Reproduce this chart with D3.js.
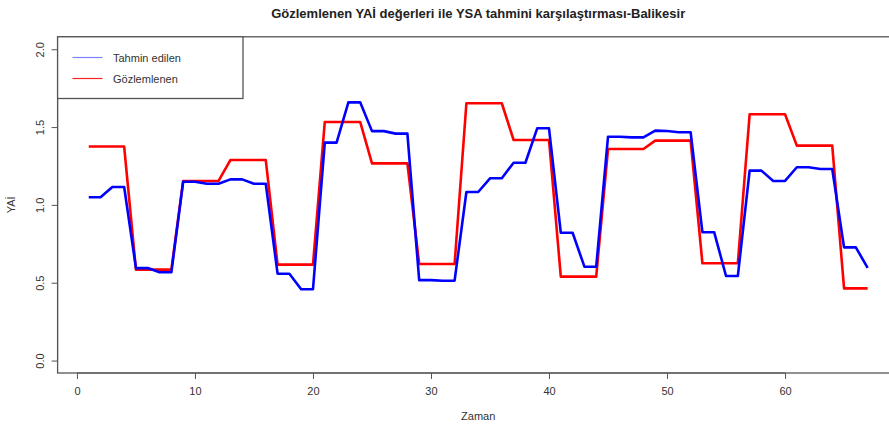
<!DOCTYPE html>
<html>
<head>
<meta charset="utf-8">
<script src="https://cdn.jsdelivr.net/npm/d3@7"></script>
<style>
  body { margin: 0; background: #fff; }
  text { font-family: "Liberation Sans", Arial, sans-serif; }
</style>
</head>
<body>
<div class="chart"></div>
<script>
// time index (Zaman)
const zaman = d3.range(1, 68)

// predicted (Tahmin edilen)
const tahmin = [
  1.049, 1.049, 1.115, 1.115, 0.594, 0.594, 0.567, 0.567, 1.149, 1.149,
  1.136, 1.136, 1.164, 1.164, 1.136, 1.136, 0.558, 0.558, 0.458, 0.458,
  1.400, 1.400, 1.659, 1.659, 1.474, 1.474, 1.458, 1.458, 0.517, 0.517,
  0.513, 0.513, 1.083, 1.083, 1.171, 1.171, 1.271, 1.271, 1.492, 1.492,
  0.821, 0.821, 0.603, 0.603, 1.438, 1.438, 1.434, 1.434, 1.477, 1.475,
  1.467, 1.467, 0.824, 0.824, 0.543, 0.543, 1.220, 1.220, 1.154, 1.154,
  1.242, 1.242, 1.231, 1.231, 0.727, 0.727, 0.596
]

// observed (Gözlemlenen)
const gozlem = [
  1.375, 1.375, 1.375, 1.375, 0.584, 0.584, 0.584, 0.584, 1.154, 1.154,
  1.154, 1.154, 1.288, 1.288, 1.288, 1.288, 0.616, 0.616, 0.616, 0.616,
  1.533, 1.533, 1.533, 1.533, 1.267, 1.267, 1.267, 1.267, 0.620, 0.620,
  0.620, 0.620, 1.653, 1.653, 1.653, 1.653, 1.417, 1.417, 1.417, 1.417,
  0.539, 0.539, 0.539, 0.539, 1.359, 1.359, 1.359, 1.359, 1.413, 1.413,
  1.413, 1.413, 0.625, 0.625, 0.625, 0.625, 1.582, 1.582, 1.582, 1.582,
  1.381, 1.381, 1.381, 1.381, 0.464, 0.464, 0.464
]

const xTicks = [0, 10, 20, 30, 40, 50, 60]
const yTicks = [0, 0.5, 1, 1.5, 2]
const legendLabels = ["Tahmin edilen", "Gözlemlenen"]
const colors = ["#0000ff", "#ff0000"]
const legendColors = ["#8080ff", "#ff2020"]

const width = 889
const height = 427
const svg = d3.select(".chart").append("svg")
    .attr("width", width)
    .attr("height", height)

// R style 4% padding around data range
const x = d3.scaleLinear().domain([-1.64, 69.64]).range([57.6, 898.8])
const y = d3.scaleLinear().domain([-0.08, 2.08]).range([373, 36.8])

const axisCol = "#555"
const textCol = "#333"

// plot box
svg.append("rect")
    .attr("x", x.range()[0]).attr("y", y.range()[1])
    .attr("width", x.range()[1] - x.range()[0])
    .attr("height", y.range()[0] - y.range()[1])
    .attr("fill", "none").attr("stroke", axisCol).attr("stroke-width", 1.3)

// x axis
const xAxis = svg.append("g")
    .attr("transform", `translate(0,${y.range()[0]})`)
    .call(d3.axisBottom(x).tickValues(xTicks).tickSize(6).tickPadding(8).tickFormat(d3.format("d")))
xAxis.select(".domain").attr("stroke", axisCol)
    .attr("d", `M${x(0)},0H${x(60)}`)
xAxis.selectAll("line").attr("stroke", axisCol)
xAxis.selectAll("text").attr("fill", textCol).style("font-size", "11px")

// y axis, labels parallel to axis like R
const yAxis = svg.append("g")
    .attr("transform", `translate(${x.range()[0]},0)`)
    .call(d3.axisLeft(y).tickValues(yTicks).tickSize(6).tickFormat(d3.format(".1f")))
yAxis.select(".domain").attr("stroke", axisCol)
    .attr("d", `M0,${y(0)}V${y(2)}`)
yAxis.selectAll("line").attr("stroke", axisCol)
yAxis.selectAll("text")
    .attr("fill", textCol).style("font-size", "11px")
    .attr("x", null).attr("dy", null)
    .attr("text-anchor", "middle")
    .attr("transform", "translate(-14,0) rotate(-90)")

// titles
svg.append("text")
    .attr("x", (x.range()[0] + x.range()[1]) / 2).attr("y", 18)
    .attr("text-anchor", "middle")
    .style("font-size", "13px").style("font-weight", "bold")
    .attr("fill", "#222")
    .text("Gözlemlenen YAİ değerleri ile YSA tahmini karşılaştırması-Balikesir")

svg.append("text")
    .attr("x", (x.range()[0] + x.range()[1]) / 2).attr("y", 420)
    .attr("text-anchor", "middle")
    .style("font-size", "11px").attr("fill", textCol)
    .text("Zaman")

svg.append("text")
    .attr("transform", `translate(15,${y(1)}) rotate(-90)`)
    .attr("text-anchor", "middle")
    .style("font-size", "11px").attr("fill", textCol)
    .text("YAİ")

// lines
const line = d3.line()
    .x((d, i) => x(zaman[i]))
    .y(d => y(d))

svg.append("path")
    .datum(gozlem)
    .attr("d", line)
    .attr("fill", "none").attr("stroke", colors[1])
    .attr("stroke-width", 2.6).attr("stroke-linejoin", "round")

svg.append("path")
    .datum(tahmin)
    .attr("d", line)
    .attr("fill", "none").attr("stroke", colors[0])
    .attr("stroke-width", 2.6).attr("stroke-linejoin", "round")

// legend
const legend = svg.append("g")
legend.append("rect")
    .attr("x", x.range()[0]).attr("y", y.range()[1])
    .attr("width", 243 - x.range()[0]).attr("height", 98.5 - y.range()[1])
    .attr("fill", "#fff").attr("stroke", axisCol).attr("stroke-width", 1.3)

legendLabels.forEach((lab, i) => {
    const ly = 57.5 + i * 21
    legend.append("line")
        .attr("x1", 72.5).attr("x2", 102.5)
        .attr("y1", ly).attr("y2", ly)
        .attr("stroke", legendColors[i]).attr("stroke-width", 1.2)
    legend.append("text")
        .attr("x", 113).attr("y", ly + 4)
        .style("font-size", "11px").attr("fill", textCol)
        .text(lab)
})
</script>
</body>
</html>
